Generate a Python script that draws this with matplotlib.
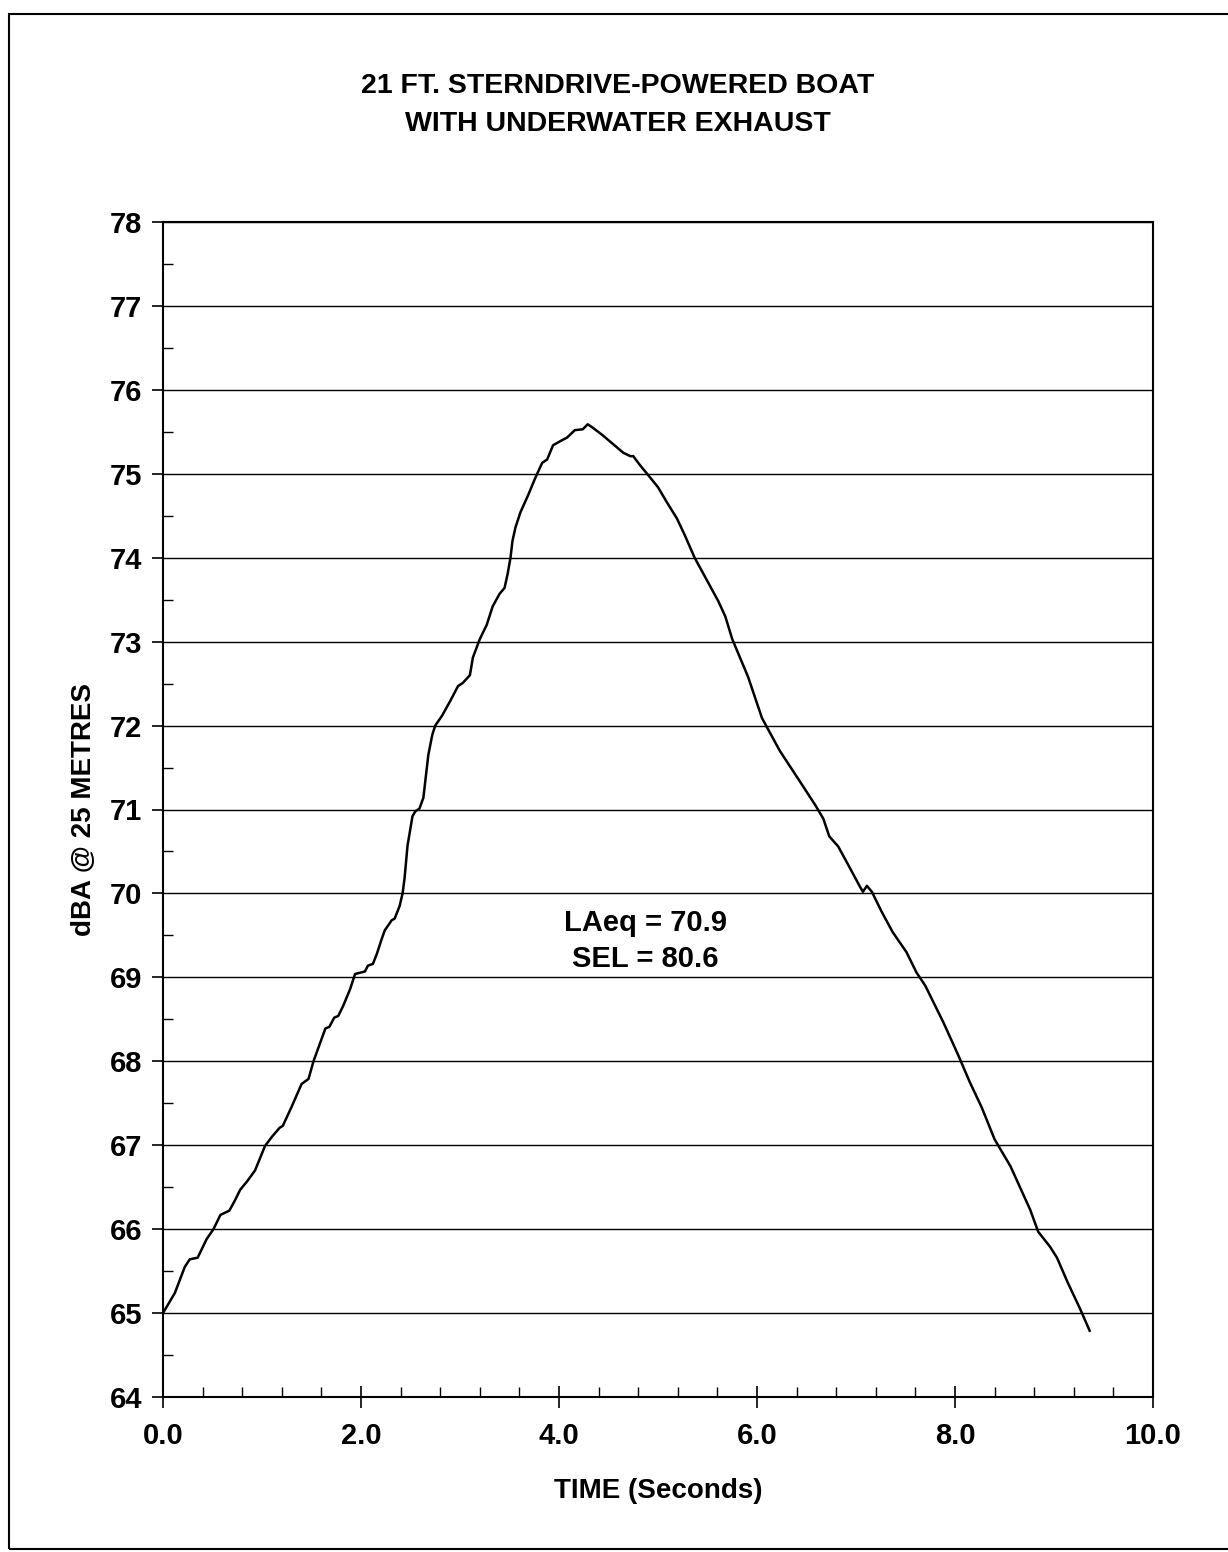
import matplotlib
matplotlib.use("Agg")
import matplotlib.pyplot as plt
from matplotlib.patches import Rectangle
from matplotlib.ticker import MultipleLocator, FormatStrFormatter

plt.rcParams['font.family'] = ['Liberation Sans', 'DejaVu Sans']
plt.rcParams['font.weight'] = 'bold'

# time (s) and level (dBA)
time_s = [0.00, 0.12, 0.22, 0.27, 0.35, 0.44, 0.51, 0.58, 0.67, 0.73, 0.78, 0.85,
          0.93, 1.03, 1.10, 1.18, 1.21, 1.30, 1.40, 1.47, 1.52, 1.64, 1.68, 1.73,
          1.77, 1.82, 1.89, 1.94, 2.04, 2.07, 2.12, 2.16, 2.21, 2.24, 2.31, 2.34,
          2.39, 2.42, 2.44, 2.47, 2.52, 2.55, 2.59, 2.63, 2.68, 2.72, 2.75, 2.82,
          2.90, 2.98, 3.03, 3.10, 3.13, 3.20, 3.27, 3.33, 3.40, 3.45, 3.48, 3.51,
          3.53, 3.56, 3.61, 3.69, 3.76, 3.83, 3.88, 3.94, 4.03, 4.08, 4.16, 4.24,
          4.29, 4.34, 4.44, 4.55, 4.65, 4.72, 4.75, 4.82, 4.89, 5.00, 5.09, 5.19,
          5.27, 5.37, 5.49, 5.61, 5.68, 5.75, 5.91, 6.05, 6.23, 6.43, 6.59, 6.67,
          6.73, 6.82, 6.94, 7.04, 7.07, 7.11, 7.16, 7.26, 7.37, 7.51, 7.61, 7.70,
          7.88, 8.03, 8.15, 8.27, 8.40, 8.56, 8.76, 8.84, 8.96, 9.03, 9.14, 9.26,
          9.36]
level_dba = [65.00, 65.24, 65.55, 65.64, 65.66, 65.88, 66.00, 66.17, 66.22, 66.35, 66.47, 66.57,
             66.70, 66.99, 67.10, 67.21, 67.23, 67.46, 67.73, 67.79, 68.00, 68.39, 68.41, 68.52,
             68.54, 68.66, 68.86, 69.04, 69.07, 69.14, 69.16, 69.28, 69.46, 69.56, 69.68, 69.70,
             69.85, 70.00, 70.18, 70.57, 70.92, 70.98, 71.01, 71.14, 71.65, 71.89, 72.00, 72.12,
             72.29, 72.47, 72.51, 72.60, 72.81, 73.03, 73.20, 73.42, 73.57, 73.64, 73.80, 74.00,
             74.20, 74.36, 74.54, 74.75, 74.95, 75.13, 75.17, 75.34, 75.40, 75.43, 75.52, 75.53,
             75.59, 75.55, 75.46, 75.35, 75.25, 75.21, 75.21, 75.10, 75.00, 74.84, 74.66, 74.47,
             74.27, 74.00, 73.74, 73.48, 73.30, 73.03, 72.58, 72.09, 71.70, 71.34, 71.05, 70.89,
             70.68, 70.56, 70.30, 70.08, 70.02, 70.09, 70.02, 69.78, 69.54, 69.30, 69.06, 68.90,
             68.47, 68.08, 67.75, 67.45, 67.07, 66.75, 66.23, 65.97, 65.79, 65.66, 65.36, 65.06,
             64.79]

title = "21 FT. STERNDRIVE-POWERED BOAT\nWITH UNDERWATER EXHAUST"
note = "LAeq = 70.9\nSEL = 80.6"

fig = plt.figure(figsize=(12.28, 15.52), dpi=100)
fig.patches.append(Rectangle((9 / 1228, 1 - 1549 / 1552), 1.2, (1549 - 14) / 1552,
                             transform=fig.transFigure, fill=False, lw=1.5,
                             ec='black', figure=fig))

ax = fig.add_axes([163 / 1228, 1 - 1397 / 1552, 990 / 1228, 1175 / 1552])
ax.plot(time_s, level_dba, color='black', lw=1.8)

ax.set_xlim(0, 10)
ax.set_ylim(64, 78)
ax.xaxis.set_major_locator(MultipleLocator(2))
ax.xaxis.set_minor_locator(MultipleLocator(0.4))
ax.yaxis.set_major_locator(MultipleLocator(1))
ax.yaxis.set_minor_locator(MultipleLocator(0.5))
ax.xaxis.set_major_formatter(FormatStrFormatter('%.1f'))

ax.grid(axis='y', which='major', color='black', lw=1.0)
ax.set_axisbelow(True)
for s in ax.spines.values():
    s.set_linewidth(1.5)

ax.tick_params(axis='y', which='major', direction='out', length=8, width=1.2,
               pad=7, labelsize=21)
ax.tick_params(axis='y', which='minor', direction='in', length=7, width=1.0)
ax.tick_params(axis='x', which='major', direction='inout', length=16, width=1.2,
               pad=10, labelsize=21)
ax.tick_params(axis='x', which='minor', direction='in', length=7, width=1.0)

ax.set_xlabel("TIME (Seconds)", fontsize=20, fontweight='bold', labelpad=20)
ax.set_ylabel("dBA @ 25 METRES", fontsize=20, fontweight='bold', labelpad=9)

ax.text(4.87, 69.43, note, ha='center', va='center', fontsize=21,
        fontweight='bold', linespacing=1.37)

fig.text(618 / 1228, 1 - 105 / 1552, title, ha='center', va='center',
         fontsize=20.5, fontweight='bold', linespacing=1.6)

fig.savefig("out.png", dpi=100)
